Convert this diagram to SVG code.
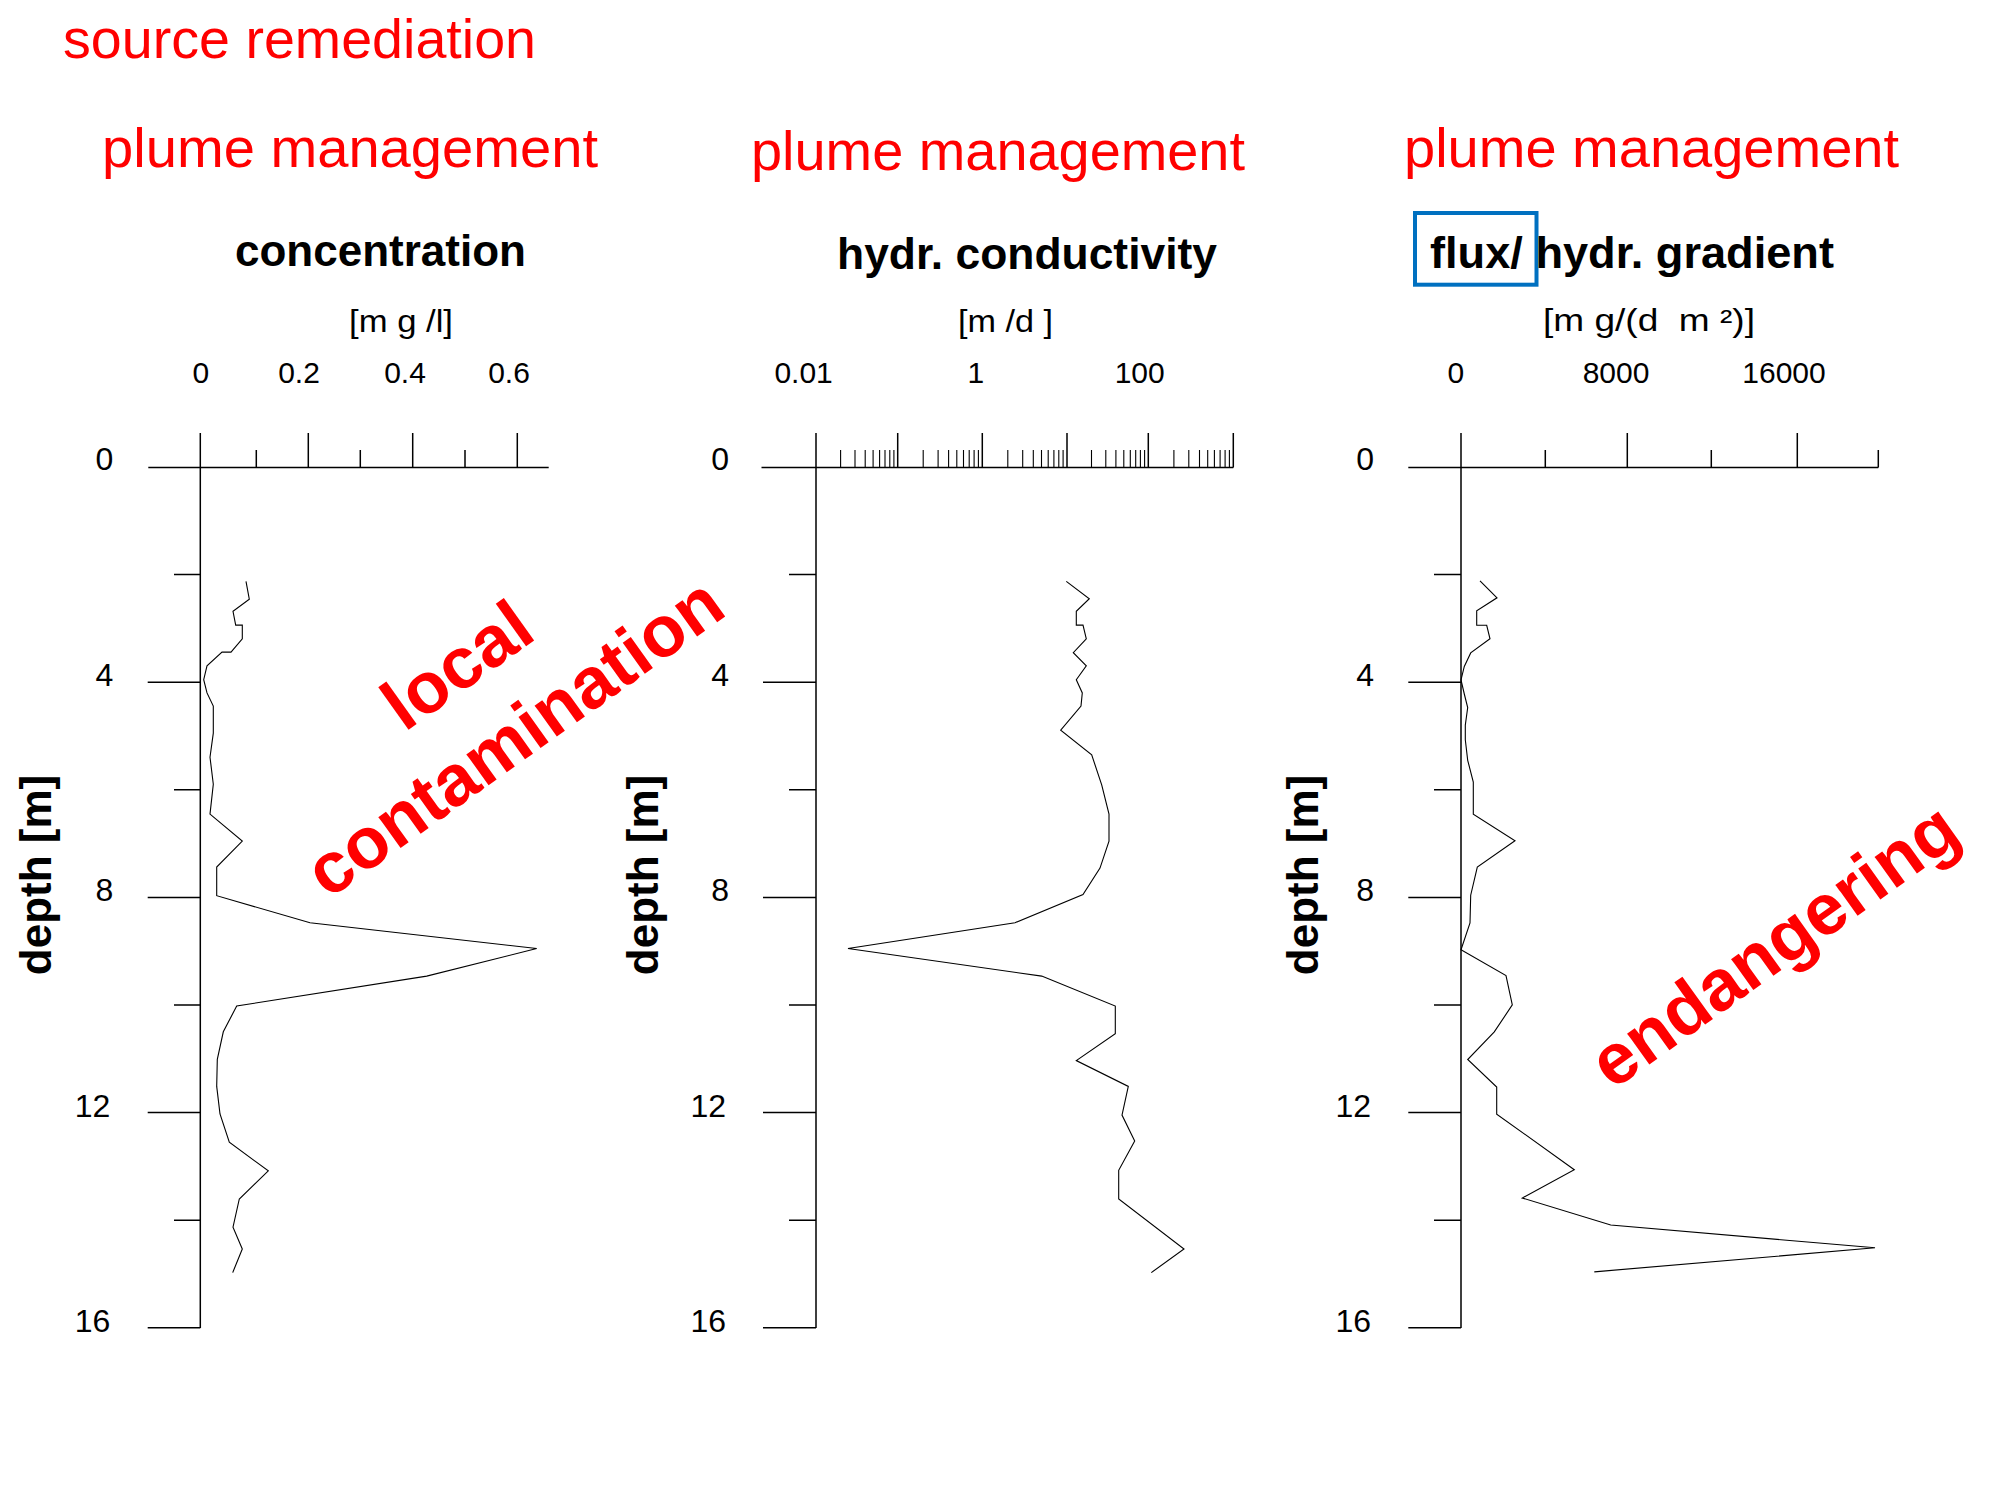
<svg xmlns="http://www.w3.org/2000/svg" width="2000" height="1500" viewBox="0 0 2000 1500">
<style>
.ax{stroke:#000;stroke-width:1.5;fill:none}
.cv{stroke:#000;stroke-width:1.1;fill:none;stroke-linejoin:miter}
.red{fill:#ff0000;font-family:"Liberation Sans",Arial,sans-serif;font-size:55px}
.redb{fill:#ff0000;font-family:"Liberation Sans",Arial,sans-serif;font-size:72px;font-weight:bold}
.ttl{fill:#000;font-family:"Liberation Sans",Arial,sans-serif;font-size:44px;font-weight:bold}
.unit{fill:#000;font-family:"Liberation Sans",Arial,sans-serif;font-size:31px}
.num{fill:#000;font-family:"Liberation Sans",Arial,sans-serif;font-size:30px;text-anchor:middle}
.dl{fill:#000;font-family:"Liberation Sans",Arial,sans-serif;font-size:32px;text-anchor:end}
.dep{fill:#000;font-family:"Liberation Sans",Arial,sans-serif;font-size:44px;font-weight:bold;text-anchor:middle}
</style>
<rect width="2000" height="1500" fill="#fff"/>

<text class="red" x="63" y="58" textLength="473" lengthAdjust="spacingAndGlyphs">source remediation</text>

<!-- Panel 1: concentration -->
<g id="panel-concentration">
<text class="red" x="102" y="167" textLength="496" lengthAdjust="spacingAndGlyphs">plume management</text>
<text class="ttl" x="235" y="266" textLength="291" lengthAdjust="spacingAndGlyphs">concentration</text>
<text class="unit" x="349" y="332" textLength="104" lengthAdjust="spacingAndGlyphs">[m g /l]</text>
<text class="num" x="200.8" y="383">0</text>
<text class="num" x="299" y="383">0.2</text>
<text class="num" x="405" y="383">0.4</text>
<text class="num" x="509" y="383">0.6</text>
<path class="ax" d="M200.3,433V1328 M148.3,467.5H548.7 M308.3,433V467.5 M412.7,433V467.5 M517.3,433V467.5 M256.3,450V467.5 M360.3,450V467.5 M465,450V467.5 M147.7,682.2H200.3 M147.7,897.4H200.3 M147.7,1112.6H200.3 M147.7,1327.8H200.3 M174,574.6H200.3 M174,789.8H200.3 M174,1005H200.3 M174,1220.2H200.3"/>
<text class="dl" x="113.3" y="470">0</text>
<text class="dl" x="113.3" y="686">4</text>
<text class="dl" x="113.3" y="901">8</text>
<text class="dl" x="110.3" y="1117">12</text>
<text class="dl" x="110.3" y="1332">16</text>
<text class="dep" transform="translate(51,875) rotate(-90)">depth [m]</text>
<polyline class="cv" points="246,581.4 249.3,599.2 233,611.3 235.7,625.1 242.3,625.1 242.3,638.9 231,652.1 222,652.1 207,665.9 203.7,679.7 207,692.9 213.3,706.1 213.3,733.1 210,757.2 213.3,784.2 210,814.1 242.3,841.1 216.7,867 216.7,895.7 310,922.7 536.7,948.5 426.7,976.1 236.7,1006 223.3,1031.8 217.3,1059.4 216.7,1086.4 220,1114 229.3,1142.2 268.3,1170.9 239.3,1199 233,1227.2 242.3,1249 232.7,1272.6"/>
</g>

<!-- Panel 2: hydraulic conductivity -->
<g id="panel-conductivity">
<text class="red" x="751" y="170" textLength="494" lengthAdjust="spacingAndGlyphs">plume management</text>
<text class="ttl" x="837" y="268.5" textLength="380" lengthAdjust="spacingAndGlyphs">hydr. conductivity</text>
<text class="unit" x="958" y="332" textLength="95" lengthAdjust="spacingAndGlyphs">[m /d ]</text>
<text class="num" x="803.6" y="383">0.01</text>
<text class="num" x="975.8" y="383">1</text>
<text class="num" x="1139.7" y="383">100</text>
<path class="ax" d="M816,433V1328 M761.5,467.5H1233.3 M897.7,433V467.5 M982.3,433V467.5 M1067,433V467.5 M1148.3,433V467.5 M1233.3,433V467.5 M763,682.2H816 M763,897.4H816 M763,1112.6H816 M763,1327.8H816 M789,574.6H816 M789,789.8H816 M789,1005H816 M789,1220.2H816"/>
<path class="cv" d="M840.6,450V467.5 M855,450V467.5 M865.2,450V467.5 M873.1,450V467.5 M879.6,450V467.5 M885,450V467.5 M889.8,450V467.5 M893.9,450V467.5 M923.2,450V467.5 M938.1,450V467.5 M948.6,450V467.5 M956.8,450V467.5 M963.5,450V467.5 M969.2,450V467.5 M974.1,450V467.5 M978.4,450V467.5 M1007.8,450V467.5 M1022.7,450V467.5 M1033.3,450V467.5 M1041.5,450V467.5 M1048.2,450V467.5 M1053.9,450V467.5 M1058.8,450V467.5 M1063.1,450V467.5 M1091.5,450V467.5 M1105.8,450V467.5 M1115.9,450V467.5 M1123.8,450V467.5 M1130.3,450V467.5 M1135.7,450V467.5 M1140.4,450V467.5 M1144.6,450V467.5 M1173.9,450V467.5 M1188.8,450V467.5 M1199.5,450V467.5 M1207.7,450V467.5 M1214.4,450V467.5 M1220.1,450V467.5 M1225.1,450V467.5 M1229.4,450V467.5"/>
<text class="dl" x="729" y="470">0</text>
<text class="dl" x="729" y="686">4</text>
<text class="dl" x="729" y="901">8</text>
<text class="dl" x="726" y="1117">12</text>
<text class="dl" x="726" y="1332">16</text>
<text class="dep" transform="translate(658,875) rotate(-90)">depth [m]</text>
<polyline class="cv" points="1066.3,581.4 1089.3,598.7 1076.3,611.3 1076.3,625.1 1083,625.1 1086.3,638.9 1073.3,652.7 1086.3,665.9 1076.3,679.7 1082.3,692.9 1081,706.1 1060.7,730.2 1091.7,754.9 1101.7,784.8 1109,814.1 1109,841.1 1100,868.1 1083,894.5 1015,922.7 848,948.5 1041.7,976.1 1115.3,1006 1115.3,1033.6 1076.3,1060.6 1128.3,1086.4 1122,1115.1 1134.7,1141 1118.7,1170.3 1118.7,1199 1184,1249 1151.3,1272.6"/>
</g>

<!-- Panel 3: flux / hydraulic gradient -->
<g id="panel-flux">
<text class="red" x="1404" y="167" textLength="495" lengthAdjust="spacingAndGlyphs">plume management</text>
<rect x="1415" y="213" width="121.5" height="71.7" fill="none" stroke="#0070c0" stroke-width="4"/>
<text class="ttl" x="1430" y="268.3" textLength="404" lengthAdjust="spacingAndGlyphs">flux/ hydr. gradient</text>
<text class="unit" x="1543" y="331" textLength="212" lengthAdjust="spacingAndGlyphs" xml:space="preserve">[m g/(d  m ²)]</text>
<text class="num" x="1455.8" y="383">0</text>
<text class="num" x="1616" y="383">8000</text>
<text class="num" x="1784" y="383">16000</text>
<path class="ax" d="M1461,433V1328 M1408.3,467.5H1878.3 M1627.3,433V467.5 M1797.3,433V467.5 M1545.3,450V467.5 M1711.3,450V467.5 M1878.3,450V467.5 M1408.3,682.2H1461 M1408.3,897.4H1461 M1408.3,1112.6H1461 M1408.3,1327.8H1461 M1434,574.6H1461 M1434,789.8H1461 M1434,1005H1461 M1434,1220.2H1461"/>
<text class="dl" x="1374" y="470">0</text>
<text class="dl" x="1374" y="686">4</text>
<text class="dl" x="1374" y="901">8</text>
<text class="dl" x="1371" y="1117">12</text>
<text class="dl" x="1371" y="1332">16</text>
<text class="dep" transform="translate(1317.5,875) rotate(-90)">depth [m]</text>
<polyline class="cv" points="1480,580.8 1497,597.8 1476.7,610.7 1476.7,625.3 1486.7,625.3 1490,638.8 1470.7,652.9 1464.3,666.4 1461,679.9 1464.3,694 1467.7,707.5 1465.3,725.1 1465.3,739.8 1467.7,760.3 1473.3,782 1473.3,814.3 1515,840.7 1477.3,867.1 1470.7,895.2 1470,922.8 1461,949.8 1506,975.6 1512.3,1004.9 1494.3,1031.9 1467.7,1059.5 1496.7,1087.1 1496.7,1114.1 1574.3,1169.8 1522.3,1198 1610.7,1225 1875,1247.8 1594.3,1271.9"/>
</g>

<!-- Annotations -->
<g id="annotations">
<text class="redb" text-anchor="middle" transform="translate(471.4,685.2) rotate(-35.5)">local</text>
<text class="redb" text-anchor="middle" transform="translate(528.4,756.9) rotate(-35.5)">contamination</text>
<text class="redb" text-anchor="middle" transform="translate(1788.4,965.2) rotate(-35.5)">endangering</text>
</g>
</svg>
